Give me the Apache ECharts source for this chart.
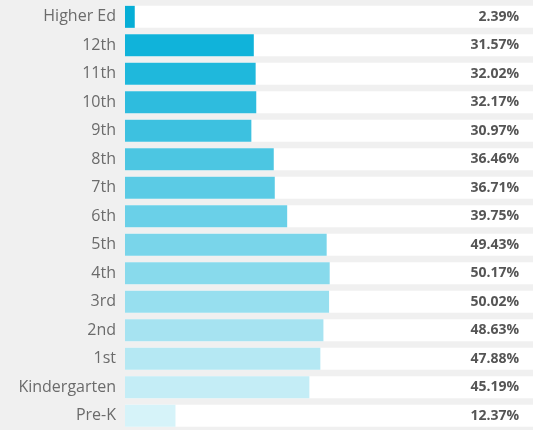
<!DOCTYPE html>
<html><head><meta charset="utf-8">
<script src="https://cdn.jsdelivr.net/npm/echarts@6/dist/echarts.min.js"></script>
<style>html,body{margin:0;padding:0;background:#f0f0f0}#c{width:533px;height:430px}</style>
</head><body><div id="c"></div>
<script>
var categories = ["Higher Ed","12th","11th","10th","9th","8th","7th","6th","5th","4th","3rd","2nd","1st","Kindergarten","Pre-K"];
var values = [2.39,31.57,32.02,32.17,30.97,36.46,36.71,39.75,49.43,50.17,50.02,48.63,47.88,45.19,12.37];
var barColors = ["#06aed6","#10b3da","#1fb8dc","#2ebcde","#3dc1e0","#4cc6e2","#5bcbe5","#6ad0e8","#79d5ea","#88daec","#97dfef","#a6e3f1","#b5e8f3","#c4edf6","#d6f3f9"];
var valueLabels = values.map(function(v){return v.toFixed(2)+'%';});

var chart = echarts.init(document.getElementById('c'));
chart.setOption({
  backgroundColor:'#f0f0f0',
  animation:false,
  grid:{left:125,right:0,top:2.6,height:431.8},
  xAxis:{type:'value',min:0,max:100,show:false},
  yAxis:[{
    type:'category',data:categories,inverse:true,
    axisLine:{show:false},axisTick:{show:false},
    axisLabel:{color:'#6b6b6b',fontSize:16,margin:9,fontFamily:'Open Sans'}
  },{
    type:'category',data:valueLabels,inverse:true,position:'right',z:10,
    axisLine:{show:false},axisTick:{show:false},
    axisLabel:{inside:true,margin:14,color:'#555',fontSize:14,fontWeight:'bold',fontFamily:'Open Sans'}
  }],
  series:[{
    type:'bar',barWidth:22,
    showBackground:true,backgroundStyle:{color:'#ffffff'},
    data:values.map(function(v,i){return {value:v,itemStyle:{color:barColors[i]}};})
  }]
});
</script></body></html>
